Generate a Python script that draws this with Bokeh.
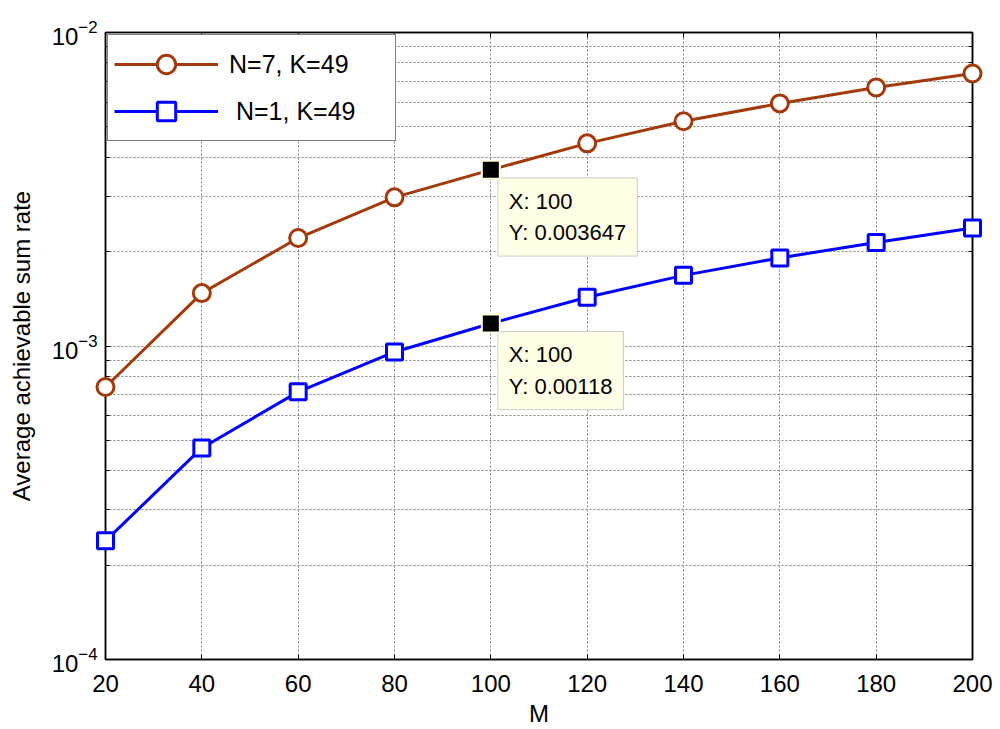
from bokeh.plotting import figure
from bokeh.models import (FixedTicker, LogAxis, LinearAxis, CustomJSTickFormatter,
                          Legend, LegendItem, Label, ColumnDataSource)
from bokeh.embed import file_html
from bokeh.resources import INLINE

# ---- data ----
M = [20, 40, 60, 80, 100, 120, 140, 160, 180, 200]
rate_n7 = [7.40e-4, 1.475e-3, 2.21e-3, 2.98e-3, 3.647e-3, 4.43e-3, 5.21e-3, 5.94e-3, 6.68e-3, 7.40e-3]
rate_n1 = [2.39e-4, 4.73e-4, 7.14e-4, 9.57e-4, 1.18e-3, 1.43e-3, 1.68e-3, 1.91e-3, 2.14e-3, 2.38e-3]
labels = ["N=7, K=49", " N=1, K=49"]
tip_x = [100, 100]
tip_y = [0.003647, 0.00118]
tip_text = ["X: 100\nY: 0.003647", "X: 100\nY: 0.00118"]
x_ticks = [20, 40, 60, 80, 100, 120, 140, 160, 180, 200]
y_ticks = [1e-4, 1e-3, 1e-2]
y_minor = [k * 10.0 ** e for e in (-4, -3) for k in range(2, 10)]

FONT = "Liberation Sans"
BROWN = "#A33A0B"
BLUE = "#0000FF"

p = figure(width=1000, height=729, y_axis_type="log",
           x_range=(20, 200), y_range=(1e-4, 1e-2),
           output_backend="svg", toolbar_location=None,
           min_border_left=105, min_border_right=28,
           min_border_top=32, min_border_bottom=69)
p.background_fill_color = "white"
p.border_fill_color = "white"
p.outline_line_color = "black"
p.outline_line_width = 1.5

xt = FixedTicker(ticks=x_ticks, minor_ticks=[])
yt = FixedTicker(ticks=y_ticks, minor_ticks=y_minor)

p.xaxis.ticker = xt
p.yaxis.ticker = yt

for ax in (p.xaxis[0], p.yaxis[0]):
    ax.axis_line_color = "black"
    ax.axis_line_width = 1.5
    ax.major_tick_in = 5
    ax.major_tick_out = 0
    ax.minor_tick_in = 4
    ax.minor_tick_out = 0
    ax.major_label_text_font = FONT
    ax.major_label_text_font_size = "24px"
    ax.major_label_text_color = "black"
    ax.axis_label_text_font = FONT
    ax.axis_label_text_font_size = "24px"
    ax.axis_label_text_font_style = "normal"
    ax.axis_label_text_color = "black"

p.xaxis.axis_label = "M"
p.xaxis.major_label_standoff = 15
p.xaxis.axis_label_standoff = 5
p.yaxis.axis_label = "Average achievable sum rate"
p.yaxis.major_label_standoff = 8
p.yaxis.axis_label_standoff = 14

blank = CustomJSTickFormatter(code="return ''")
right = LogAxis(ticker=yt, formatter=blank, major_tick_in=5, major_tick_out=0,
                minor_tick_in=4, minor_tick_out=0, axis_line_color="black",
                axis_line_width=1.5, major_label_standoff=0)
top = LinearAxis(ticker=xt, formatter=blank, major_tick_in=5, major_tick_out=0,
                 minor_tick_in=0, minor_tick_out=0, axis_line_color="black",
                 axis_line_width=1.5, major_label_standoff=0)
p.add_layout(right, "right")
p.add_layout(top, "above")

# grid
p.xgrid.ticker = xt
p.xgrid.grid_line_color = "#808080"
p.xgrid.grid_line_dash = "2 2"
p.xgrid.grid_line_width = 1
p.ygrid.ticker = yt
p.ygrid.grid_line_color = "#808080"
p.ygrid.grid_line_dash = "2 2"
p.ygrid.minor_grid_line_color = "#808080"
p.ygrid.minor_grid_line_dash = "2 2"

src7 = ColumnDataSource(dict(x=M, y=rate_n7))
src1 = ColumnDataSource(dict(x=M, y=rate_n1))

l7 = p.line("x", "y", source=src7, line_color=BROWN, line_width=3)
s7 = p.scatter("x", "y", source=src7, marker="circle", size=17,
               line_color=BROWN, line_width=3, fill_color="white", level="overlay")
l1 = p.line("x", "y", source=src1, line_color=BLUE, line_width=3)
s1 = p.scatter("x", "y", source=src1, marker="square", size=16,
               line_color=BLUE, line_width=3, fill_color="white", level="overlay")

# data tips
p.scatter(tip_x, tip_y, marker="square", size=18, fill_color="black",
          line_color="#FFFFE1", line_width=2, level="overlay")
for tx, ty, tt in zip(tip_x, tip_y, tip_text):
    p.add_layout(Label(x=tx, y=ty, text=tt, x_offset=7, y_offset=-8,
                       text_align="left", text_baseline="top",
                       text_font=FONT, text_font_size="22px", text_color="black",
                       text_line_height=1.25,
                       background_fill_color="#FFFFE6", border_line_color="#CCCCCC",
                       border_line_width=1, padding=11))

legend = Legend(items=[LegendItem(label=labels[0], renderers=[l7, s7]),
                       LegendItem(label=labels[1], renderers=[l1, s1])],
                location="top_left")
legend.margin = 2
legend.padding = 6
legend.spacing = 1
legend.glyph_width = 104
legend.glyph_height = 46
legend.label_standoff = 11
legend.label_width = 160
legend.label_text_font = FONT
legend.label_text_font_size = "25px"
legend.label_text_color = "black"
legend.border_line_color = "black"
legend.border_line_width = 1.5
legend.background_fill_color = "white"
legend.background_fill_alpha = 1
p.add_layout(legend)

open("out.html", "w").write(file_html(p, INLINE))
